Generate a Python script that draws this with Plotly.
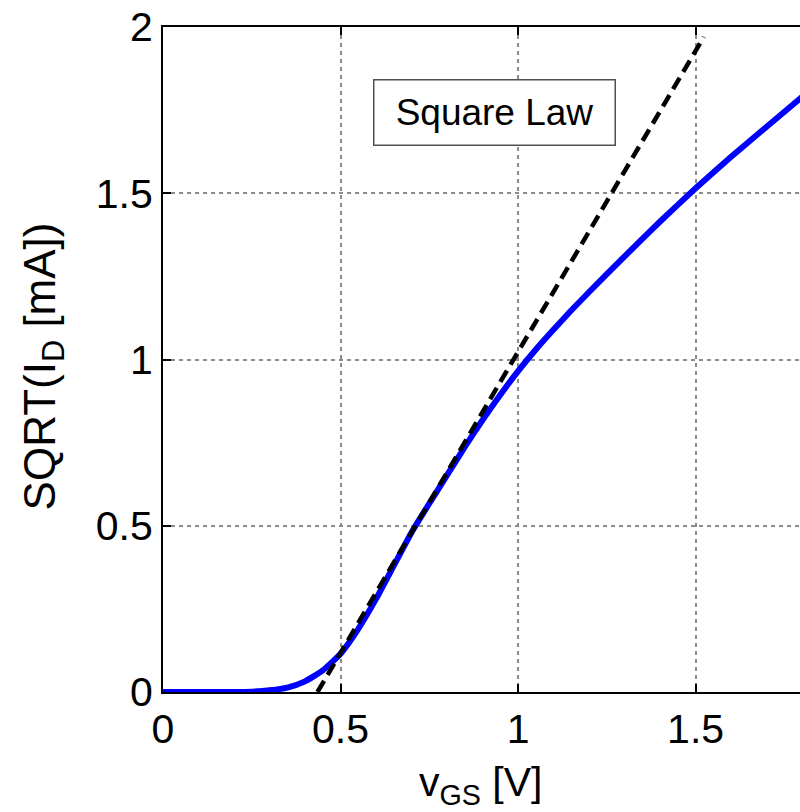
import plotly.graph_objects as go

# Measured MOSFET transfer curve: sqrt(I_D) versus v_GS
vgs = [0.0, 0.1, 0.2, 0.25, 0.3, 0.35, 0.4, 0.45, 0.5, 0.55, 0.6, 0.65,
       0.7, 0.75, 0.8, 0.85, 0.9, 0.95, 1.0, 1.05, 1.1, 1.15, 1.2, 1.3,
       1.4, 1.5, 1.6, 1.7, 1.8]
sqrt_id = [0.0, 0.0, 0.0, 0.001, 0.005, 0.013, 0.032, 0.065, 0.115, 0.19,
           0.28, 0.38, 0.48, 0.567, 0.652, 0.737, 0.818, 0.894, 0.965, 1.03,
           1.09, 1.148, 1.203, 1.31, 1.415, 1.515, 1.61, 1.70, 1.79]

# Ideal square-law fit: straight line in sqrt(I_D)
fit_vgs = [0.435, 1.523]
fit_sqrt_id = [0.0, 1.97]

x_ticks = [0, 0.5, 1, 1.5]
y_ticks = [0, 0.5, 1, 1.5, 2]

FONT = "Liberation Sans, Arial, Helvetica, sans-serif"

fig = go.Figure()
fig.add_trace(go.Scatter(
    x=vgs, y=sqrt_id, mode="lines",
    line=dict(color="#0000ff", width=6, shape="spline", smoothing=0.5),
    showlegend=False, hoverinfo="skip",
))
fig.add_trace(go.Scatter(
    x=fit_vgs, y=fit_sqrt_id, mode="lines",
    line=dict(color="black", width=4.5, dash="13px,7px"),
    showlegend=False, hoverinfo="skip",
))

axis_common = dict(
    showline=True, linecolor="black", linewidth=2,
    ticks="inside", ticklen=8, tickwidth=1.5, tickcolor="black",
    showgrid=True, gridcolor="#8c8c8c", gridwidth=2, griddash="4px,4px",
    zeroline=False, layer="below traces",
    tickfont=dict(family=FONT, size=41, color="black"),
)

fig.update_xaxes(range=[0, 1.794], tickvals=x_ticks,
                 ticktext=[f"{v:g}" for v in x_ticks],
                 mirror="allticks", **axis_common)
fig.update_yaxes(range=[0, 2], tickvals=y_ticks,
                 ticktext=[f"{v:g}" for v in y_ticks],
                 mirror=False, **axis_common)

fig.add_annotation(
    x=0.935, y=1.744, xref="x", yref="y",
    text="Square Law", showarrow=False,
    font=dict(family=FONT, size=37, color="black"),
    bgcolor="white", bordercolor="#505050", borderwidth=1.5,
    borderpad=0, width=240, height=64,
)
fig.add_annotation(
    x=0.499, y=-0.14, xref="paper", yref="paper",
    text="v<sub>GS</sub> [V]", showarrow=False,
    xanchor="center", yanchor="middle",
    font=dict(family=FONT, size=41, color="black"),
)
fig.add_annotation(
    x=-0.188, y=0.49, xref="paper", yref="paper",
    text="SQRT(I<sub>D</sub> [mA])", showarrow=False, textangle=-90,
    xanchor="center", yanchor="middle",
    font=dict(family=FONT, size=44, color="black"),
)

fig.update_layout(
    width=800, height=812,
    margin=dict(l=163, r=0, t=27, b=120),
    paper_bgcolor="white", plot_bgcolor="white",
)

fig.write_html("out.html")
